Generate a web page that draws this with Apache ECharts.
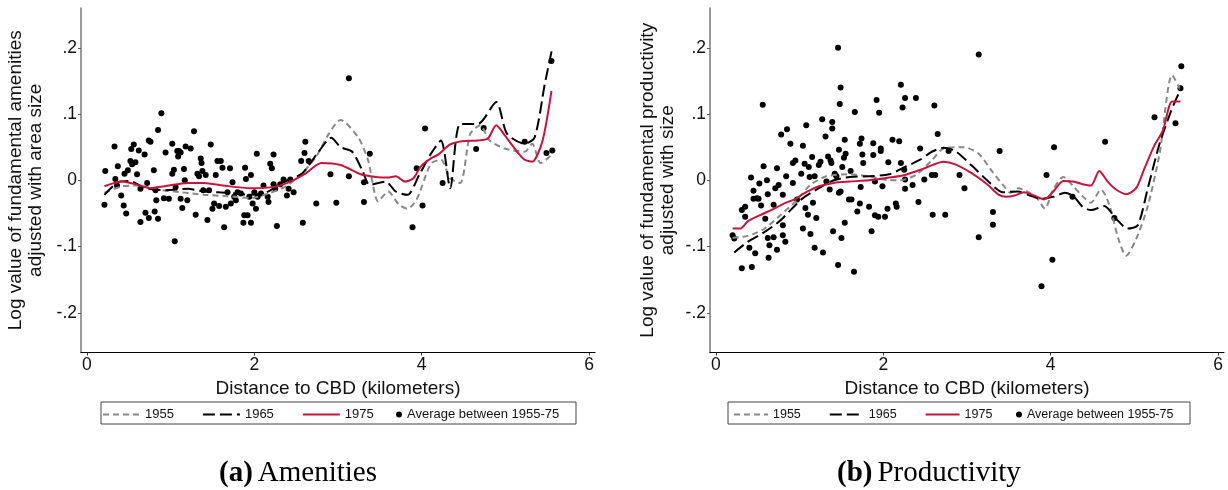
<!DOCTYPE html>
<html>
<head>
<meta charset="utf-8">
<script src="https://cdn.jsdelivr.net/npm/echarts@6/dist/echarts.min.js"></script>
<style>
  html, body { margin: 0; padding: 0; background: #fff; }
  #main { width: 1228px; height: 490px; }
</style>
</head>
<body>
<div id="main"></div>
<script>
// tick labels
const xTicks = [0, 2, 4, 6]
const yTicks = [-0.2, -0.1, 0, 0.1, 0.2]

// (a) amenities: average points 1955-75
const amenPts = [
  [0.21, -0.037], [0.22, 0.014], [0.33, 0.051], [0.34, 0.002], [0.37, 0.021], [0.36, -0.008],
  [0.41, -0.023], [0.44, -0.038], [0.45, 0.010], [0.47, -0.050], [0.49, 0.015], [0.52, 0.029],
  [0.53, 0.047], [0.54, 0.024], [0.56, 0.054], [0.58, 0.027], [0.60, 0.009], [0.62, 0.045],
  [0.64, -0.063], [0.64, -0.013], [0.69, 0.039], [0.70, -0.049], [0.72, -0.004], [0.74, -0.057],
  [0.74, 0.060], [0.76, 0.058], [0.80, 0.015], [0.81, -0.047], [0.82, -0.015], [0.83, -0.030],
  [0.85, -0.058], [0.85, 0.076], [0.89, 0.101], [0.92, -0.027], [0.94, 0.042], [0.98, -0.028],
  [1.02, 0.055], [1.02, 0.010], [1.04, 0.016], [1.05, -0.092], [1.06, -0.010], [1.08, 0.044],
  [1.09, 0.036], [1.10, 0.044], [1.12, 0.042], [1.12, -0.028], [1.14, -0.042], [1.16, 0.017],
  [1.17, 0.000], [1.18, 0.051], [1.20, -0.030], [1.24, 0.048], [1.28, 0.074], [1.30, -0.052],
  [1.32, 0.010], [1.34, 0.006], [1.36, 0.033], [1.37, 0.026], [1.38, 0.014], [1.39, -0.015],
  [1.42, 0.008], [1.44, -0.060], [1.46, -0.015], [1.48, 0.054], [1.50, -0.043], [1.52, -0.035],
  [1.54, 0.008], [1.56, 0.029], [1.58, -0.039], [1.60, 0.029], [1.62, 0.019], [1.64, -0.071],
  [1.66, -0.040], [1.68, -0.018], [1.71, 0.018], [1.72, -0.035], [1.74, -0.003], [1.76, -0.025],
  [1.78, -0.030], [1.80, -0.018], [1.84, -0.020], [1.87, -0.064], [1.88, -0.053], [1.89, 0.019],
  [1.90, 0.002], [1.92, -0.053], [1.94, -0.025], [1.96, 0.008], [1.96, -0.064], [1.98, -0.035],
  [2.00, -0.018], [2.02, -0.043], [2.03, 0.040], [2.04, -0.025], [2.08, -0.020], [2.11, -0.008],
  [2.16, -0.025], [2.17, -0.033], [2.19, 0.025], [2.21, 0.018], [2.23, 0.039], [2.23, -0.006],
  [2.25, -0.013], [2.27, -0.069], [2.31, -0.006], [2.35, 0.001], [2.39, -0.023], [2.41, -0.013],
  [2.43, 0.001], [2.47, -0.018], [2.56, 0.029], [2.58, -0.064], [2.60, 0.041], [2.61, 0.058],
  [2.65, 0.029], [2.74, -0.035], [2.91, 0.009], [2.98, -0.034], [3.13, 0.154], [3.13, 0.006],
  [3.31, -0.003], [3.31, -0.033], [3.38, 0.040], [3.89, -0.071], [3.94, 0.018], [4.01, -0.038],
  [4.04, 0.078], [4.25, -0.004], [4.65, 0.047], [4.74, 0.079], [5.23, 0.058], [5.49, 0.041],
  [5.56, 0.045], [5.55, 0.180]
]
const amen55 = [
  [0.21, -0.019], [0.42, -0.009], [0.61, -0.008], [0.84, -0.014], [1.12, -0.018], [1.40, -0.022],
  [1.68, -0.024], [1.96, -0.027], [2.19, -0.019], [2.38, -0.009], [2.57, 0.010], [2.75, 0.038],
  [2.89, 0.070], [3.03, 0.091], [3.24, 0.065], [3.36, 0.030], [3.48, -0.032], [3.60, -0.017],
  [3.73, -0.037], [3.83, -0.043], [3.94, -0.029], [4.11, 0.025], [4.23, 0.031], [4.34, 0.003],
  [4.46, -0.004], [4.58, 0.070], [4.70, 0.083], [4.81, 0.060], [4.99, 0.048], [5.23, 0.043],
  [5.32, 0.055], [5.42, 0.026], [5.56, 0.039]
]
const amen65 = [
  [0.21, -0.022], [0.37, -0.003], [0.51, -0.001], [0.70, -0.012], [0.93, -0.015], [1.21, -0.013],
  [1.40, -0.017], [1.68, -0.019], [1.96, -0.022], [2.15, -0.018], [2.33, -0.004], [2.57, 0.010],
  [2.75, 0.040], [2.92, 0.064], [3.03, 0.050], [3.17, 0.043], [3.29, 0.015], [3.38, -0.007],
  [3.57, -0.002], [3.69, -0.017], [3.83, -0.022], [3.97, 0.008], [4.11, 0.040], [4.23, 0.060],
  [4.34, -0.012], [4.46, 0.085], [4.67, 0.085], [4.89, 0.118], [5.02, 0.070], [5.23, 0.055],
  [5.35, 0.065], [5.47, 0.145], [5.56, 0.200]
]
const amen75 = [
  [0.21, -0.009], [0.42, -0.002], [0.61, -0.007], [0.75, -0.012], [0.93, -0.009], [1.21, -0.004],
  [1.40, -0.004], [1.63, -0.008], [1.96, -0.012], [2.24, -0.010], [2.43, -0.002], [2.61, 0.010],
  [2.80, 0.026], [3.03, 0.023], [3.27, 0.009], [3.45, 0.005], [3.59, 0.004], [3.69, 0.006],
  [3.80, -0.002], [3.90, 0.003], [3.99, 0.021], [4.11, 0.033], [4.20, 0.039], [4.34, 0.054],
  [4.48, 0.059], [4.67, 0.060], [4.79, 0.063], [4.89, 0.083], [4.99, 0.068], [5.14, 0.043],
  [5.23, 0.031], [5.32, 0.028], [5.44, 0.058], [5.55, 0.135]
]

// (b) productivity
const prodPts = [
  [0.20, -0.083], [0.22, -0.088], [0.31, -0.133], [0.31, -0.045], [0.35, -0.040], [0.35, -0.055],
  [0.40, -0.102], [0.42, 0.004], [0.43, -0.131], [0.45, -0.016], [0.45, -0.028], [0.47, -0.110],
  [0.49, -0.027], [0.51, -0.028], [0.52, -0.005], [0.54, -0.038], [0.56, 0.114], [0.57, 0.021],
  [0.59, -0.058], [0.61, 0.000], [0.62, -0.021], [0.62, -0.087], [0.63, -0.117], [0.64, -0.098],
  [0.69, -0.037], [0.69, -0.086], [0.71, -0.012], [0.73, 0.018], [0.73, -0.105], [0.75, -0.007],
  [0.78, 0.069], [0.80, -0.068], [0.80, -0.022], [0.80, -0.083], [0.83, -0.093], [0.84, 0.006],
  [0.85, 0.077], [0.89, 0.055], [0.92, 0.026], [0.92, -0.004], [0.95, 0.030], [0.97, -0.029],
  [1.02, 0.010], [1.04, 0.052], [1.04, -0.073], [1.06, 0.025], [1.07, -0.042], [1.08, 0.083],
  [1.10, -0.052], [1.11, 0.020], [1.12, 0.005], [1.13, -0.081], [1.15, 0.035], [1.16, -0.034],
  [1.18, 0.006], [1.18, -0.102], [1.20, -0.057], [1.23, 0.023], [1.25, 0.028], [1.27, 0.092],
  [1.28, -0.109], [1.31, 0.066], [1.32, -0.002], [1.34, 0.036], [1.36, -0.014], [1.37, 0.030],
  [1.38, 0.026], [1.39, 0.078], [1.39, 0.088], [1.40, -0.077], [1.42, 0.010], [1.44, 0.006],
  [1.46, -0.128], [1.46, 0.200], [1.47, -0.019], [1.47, 0.046], [1.48, 0.115], [1.49, 0.140],
  [1.49, -0.017], [1.50, -0.087], [1.51, 0.020], [1.53, 0.034], [1.54, 0.061], [1.54, -0.064],
  [1.55, 0.040], [1.59, -0.029], [1.61, 0.014], [1.62, -0.029], [1.65, -0.138], [1.66, 0.103],
  [1.69, -0.047], [1.72, 0.055], [1.72, -0.035], [1.74, 0.063], [1.75, 0.039], [1.76, 0.026],
  [1.73, -0.010], [1.83, -0.040], [1.86, -0.077], [1.88, 0.038], [1.88, 0.056], [1.90, -0.002],
  [1.90, -0.053], [1.92, 0.121], [1.94, -0.055], [1.95, 0.102], [1.97, 0.048], [1.97, 0.044],
  [1.99, -0.009], [2.02, -0.055], [2.05, -0.043], [2.06, 0.027], [2.11, 0.061], [2.15, -0.035],
  [2.16, -0.040], [2.19, 0.059], [2.21, 0.144], [2.21, 0.026], [2.23, 0.110], [2.25, 0.016],
  [2.26, 0.124], [2.26, 0.001], [2.26, -0.013], [2.35, -0.007], [2.39, 0.124], [2.42, -0.033],
  [2.44, 0.048], [2.49, 0.001], [2.58, 0.008], [2.61, 0.113], [2.59, -0.052], [2.62, 0.008],
  [2.65, 0.070], [2.74, -0.052], [2.78, 0.044], [2.91, 0.008], [2.97, -0.012], [3.14, 0.190],
  [3.14, -0.086], [3.31, -0.048], [3.31, -0.067], [3.39, 0.044], [3.89, -0.160], [3.95, 0.008],
  [4.02, -0.120], [4.04, 0.050], [4.26, -0.025], [4.65, 0.058], [4.76, -0.057], [5.24, 0.095],
  [5.49, 0.086], [5.55, 0.139], [5.56, 0.172]
]
const prod55 = [
  [0.20, -0.087], [0.38, -0.084], [0.57, -0.074], [0.76, -0.054], [0.95, -0.032], [1.13, -0.007],
  [1.32, 0.006], [1.60, 0.009], [1.83, 0.006], [2.07, 0.000], [2.21, 0.000], [2.40, 0.009],
  [2.58, 0.030], [2.72, 0.048], [2.96, 0.050], [3.14, 0.040], [3.29, 0.015], [3.43, -0.007],
  [3.52, -0.019], [3.61, -0.012], [3.75, -0.019], [3.85, -0.029], [3.93, -0.043], [4.03, -0.014],
  [4.15, 0.005], [4.27, -0.009], [4.38, -0.024], [4.48, -0.034], [4.60, -0.014], [4.70, -0.037],
  [4.81, -0.089], [4.90, -0.114], [5.02, -0.089], [5.16, -0.039], [5.30, 0.040], [5.45, 0.159],
  [5.55, 0.136]
]
const prod65 = [
  [0.22, -0.109], [0.38, -0.093], [0.57, -0.079], [0.76, -0.062], [0.90, -0.044], [1.04, -0.027],
  [1.23, -0.012], [1.41, 0.000], [1.60, 0.005], [1.83, 0.006], [2.07, 0.009], [2.26, 0.020],
  [2.44, 0.031], [2.58, 0.043], [2.72, 0.049], [2.86, 0.044], [3.05, 0.023], [3.24, 0.000],
  [3.43, -0.018], [3.61, -0.017], [3.75, -0.023], [3.89, -0.028], [4.03, -0.025], [4.17, -0.019],
  [4.27, -0.024], [4.38, -0.040], [4.48, -0.045], [4.64, -0.039], [4.78, -0.058], [4.92, -0.073],
  [5.04, -0.068], [5.16, -0.012], [5.30, 0.055], [5.44, 0.105], [5.56, 0.140]
]
const prod75 = [
  [0.20, -0.073], [0.29, -0.073], [0.38, -0.062], [0.52, -0.053], [0.66, -0.045], [0.80, -0.036],
  [0.95, -0.028], [1.09, -0.017], [1.23, -0.009], [1.41, -0.004], [1.60, -0.002], [1.83, 0.000],
  [2.07, 0.004], [2.26, 0.008], [2.49, 0.018], [2.72, 0.028], [2.86, 0.024], [3.05, 0.011],
  [3.24, -0.006], [3.38, -0.022], [3.47, -0.025], [3.57, -0.023], [3.68, -0.018], [3.80, -0.023],
  [3.92, -0.029], [4.03, -0.017], [4.15, -0.001], [4.27, -0.002], [4.38, -0.006], [4.48, -0.008],
  [4.58, 0.014], [4.68, -0.002], [4.78, -0.014], [4.90, -0.021], [5.02, -0.012], [5.12, 0.018],
  [5.24, 0.053], [5.34, 0.075], [5.45, 0.119], [5.55, 0.119]
]

const SANS = 'Liberation Sans, Arial, sans-serif'
const SERIF = 'Liberation Serif, Times New Roman, serif'
const RED = '#c8143c'

function yFmt (v) {
  if (Math.abs(v) < 1e-9) return '0'
  return (v < 0 ? '-' : '') + String(Math.round(Math.abs(v) * 10) / 10).replace(/^0/, '')
}

function xAxisOpt (gi) {
  return {
    type: 'value', gridIndex: gi, min: -0.07, max: 6.07,
    name: 'Distance to CBD (kilometers)', nameLocation: 'middle', nameGap: 25,
    nameTextStyle: { fontFamily: SANS, fontSize: 19, color: '#111' },
    axisLine: { show: true, onZero: false, lineStyle: { color: '#000', width: 1.2 } },
    axisTick: { show: true, length: 3, customValues: xTicks, lineStyle: { color: '#333' } },
    axisLabel: { customValues: xTicks, margin: 4, fontFamily: SANS, fontSize: 17.5, color: '#111' },
    splitLine: { show: false }
  }
}

function yAxisOpt (gi, name, gap) {
  return {
    type: 'value', gridIndex: gi, min: -0.26, max: 0.26,
    name: name, nameLocation: 'middle', nameRotate: 90, nameGap: gap,
    nameTextStyle: { fontFamily: SANS, fontSize: 19, lineHeight: 20, color: '#111', align: 'center' },
    axisLine: { show: true, onZero: false, lineStyle: { color: '#777', width: 1.5 } },
    axisTick: { show: true, length: 3, customValues: yTicks, lineStyle: { color: '#555' } },
    axisLabel: { customValues: yTicks, margin: 4, formatter: yFmt, fontFamily: SANS, fontSize: 17.5, color: '#111' },
    splitLine: { show: false }
  }
}

function lineSeries (name, data, gi, style) {
  return {
    name: name, type: 'line', xAxisIndex: gi, yAxisIndex: gi, data: data,
    symbol: 'none', smooth: 0.25, z: style.z || 3,
    lineStyle: { color: style.color, width: 2, type: style.dash || 'solid' },
    itemStyle: { color: style.color }
  }
}

function dotSeries (data, gi) {
  return {
    name: 'Average between 1955-75', type: 'scatter', xAxisIndex: gi, yAxisIndex: gi,
    data: data, symbolSize: 6, itemStyle: { color: '#000', opacity: 1 }, z: 2
  }
}

const gray = { color: '#888', dash: [6, 4] }
const black = { color: '#000', dash: [12, 5] }
const red = { color: RED, z: 4 }

const legendText = size => ({ fontFamily: SANS, fontSize: size, color: '#111' })
const capRich = {
  b: { fontFamily: SERIF, fontWeight: 'bold', fontSize: 29, color: '#000' },
  r: { fontFamily: SERIF, fontWeight: 'normal', fontSize: 29, color: '#000' }
}

const chart = echarts.init(document.getElementById('main'), null, { renderer: 'canvas' })
chart.setOption({
  backgroundColor: '#fff',
  animation: false,
  grid: [
    { left: 81, top: 8, width: 514, height: 344.5 },
    { left: 710, top: 8, width: 514, height: 344.5 }
  ],
  xAxis: [xAxisOpt(0), xAxisOpt(1)],
  yAxis: [
    yAxisOpt(0, 'Log value of fundamental amenities\nadjusted with area size', 35),
    yAxisOpt(1, 'Log value of fundamental productivity\nadjusted with size', 32)
  ],
  legend: [
    { data: ['1955', '1965', '1975'], left: 102, top: 408, padding: 0, itemWidth: 37, itemHeight: 10, itemGap: 28,
      itemStyle: { opacity: 0 }, textStyle: legendText(13) },
    { data: ['Average between 1955-75'], left: 396, top: 408, padding: 0, itemWidth: 6, itemHeight: 6, icon: 'circle',
      textStyle: legendText(13) },
    { data: ['1955', '1965', '1975'], left: 733, top: 408, padding: 0, itemWidth: 34, itemHeight: 10, itemGap: 28,
      itemStyle: { opacity: 0 }, textStyle: legendText(12.5) },
    { data: ['Average between 1955-75'], left: 1016, top: 408, padding: 0, itemWidth: 6, itemHeight: 6, icon: 'circle',
      textStyle: legendText(12.5) }
  ],
  title: [
    { text: '{b|(a)} {r|Amenities}', left: 219, top: 459, padding: 0,
      textStyle: { fontWeight: 'normal', rich: capRich } },
    { text: '{b|(b)} {r|Productivity}', left: 837, top: 459, padding: 0,
      textStyle: { fontWeight: 'normal', rich: capRich } }
  ],
  graphic: [
    { type: 'rect', shape: { x: 101, y: 402, width: 475, height: 22 }, style: { fill: 'none', stroke: '#444', lineWidth: 1 } },
    { type: 'rect', shape: { x: 728, y: 402, width: 462, height: 22 }, style: { fill: 'none', stroke: '#444', lineWidth: 1 } }
  ],
  series: [
    dotSeries(amenPts, 0),
    lineSeries('1955', amen55, 0, gray),
    lineSeries('1965', amen65, 0, black),
    lineSeries('1975', amen75, 0, red),
    dotSeries(prodPts, 1),
    lineSeries('1955', prod55, 1, gray),
    lineSeries('1965', prod65, 1, black),
    lineSeries('1975', prod75, 1, red)
  ]
})
</script>
</body>
</html>
